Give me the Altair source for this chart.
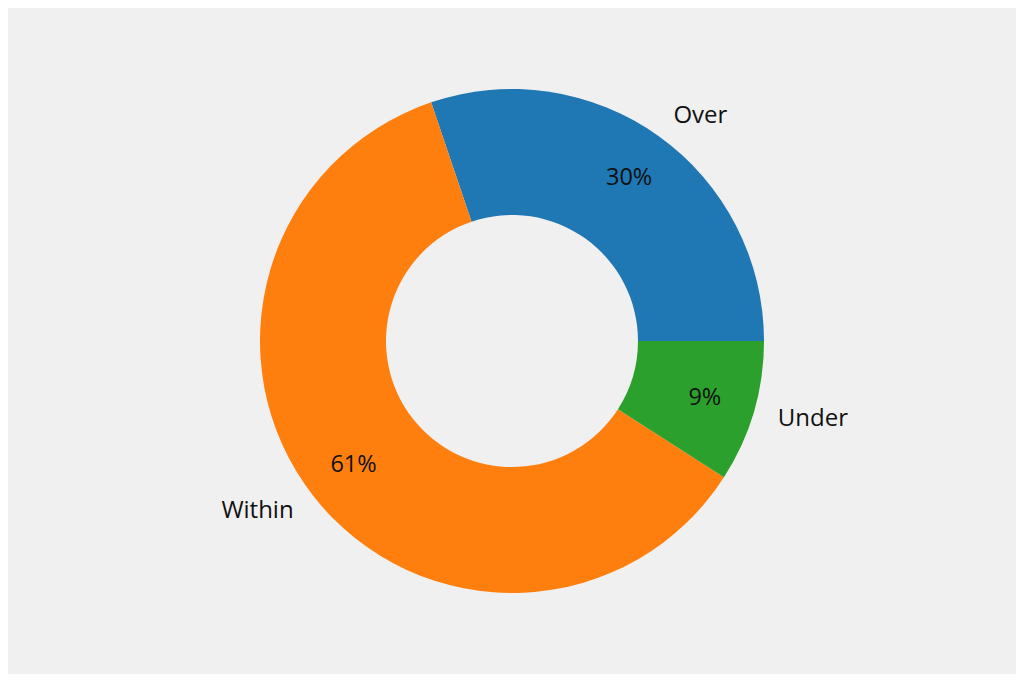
import altair as alt
import pandas as pd

categories = ["Over", "Within", "Under"]
shares = [30.2, 60.7, 9.1]
colors = ["#1f77b4", "#ff7f0e", "#2ca02c"]
pct_labels = ["30%", "61%", "9%"]

df = pd.DataFrame({"cat": categories, "share": shares, "pct": pct_labels,
                   "order": [0, 1, 2]})

PI = 3.141592653589793
theta = alt.Theta("share:Q", stack=True,
                  scale=alt.Scale(range=[PI / 2, PI / 2 - 2 * PI]))
color = alt.Color("cat:N", scale=alt.Scale(domain=categories, range=colors), legend=None)
order = alt.Order("order:Q")

FONT = "Open Sans"
base = alt.Chart(df)

arcs = base.mark_arc(innerRadius=126, outerRadius=252, stroke=None).encode(
    theta=theta, color=color, order=order
)

pct = base.mark_text(radius=201, fontSize=23.5, font=FONT, color="#111111",
                     align="center", baseline="middle").encode(
    theta=theta, order=order, text="pct:N"
)

names = base.mark_text(radius=277, fontSize=24, font=FONT, color="#111111",
                       align=alt.expr("datum.cat == 'Within' ? 'right' : 'left'"),
                       baseline="middle").encode(
    theta=theta, order=order, text="cat:N"
)

chart = alt.layer(arcs, pct, names).properties(
    width=1008, height=666, background="#f0f0f0",
    autosize=alt.AutoSizeParams(type="fit", contains="padding"),
    padding=0,
).configure_view(stroke=None)

chart.save("out.html", embed_options={"renderer": "svg", "actions": False})
